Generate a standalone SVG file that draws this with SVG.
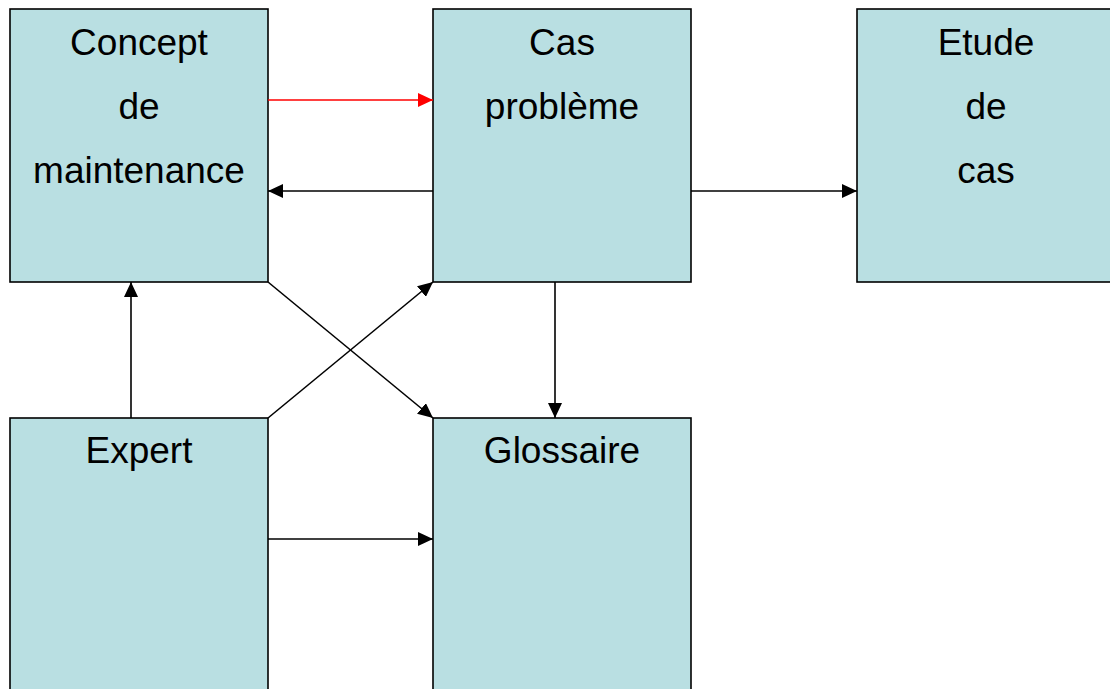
<svg xmlns="http://www.w3.org/2000/svg" width="1110" height="689" viewBox="0 0 1110 689">
<style>
.box{fill:#B9DFE2;stroke:#000;stroke-width:1.6}
.t{font-family:"Liberation Sans",Arial,sans-serif;font-size:37px;fill:#000;text-anchor:middle}
.c{stroke:#000;stroke-width:1.6;fill:none;marker-end:url(#ah)}
.r{stroke:#FF0000;stroke-width:1.6;fill:none;marker-end:url(#ahr)}
</style>
<defs>
<marker id="ah" markerUnits="userSpaceOnUse" markerWidth="16" markerHeight="14" refX="15" refY="7" orient="auto">
<path d="M0,0 L15,7 L0,14 Z" fill="#000"/>
</marker>
<marker id="ahr" markerUnits="userSpaceOnUse" markerWidth="16" markerHeight="14" refX="15" refY="7" orient="auto">
<path d="M0,0 L15,7 L0,14 Z" fill="#FF0000"/>
</marker>
</defs>
<rect width="1110" height="689" fill="#fff"/>
<g id="concept">
<rect class="box" x="10" y="9" width="258" height="273"/>
<text class="t" x="139" y="54.5">Concept</text>
<text class="t" x="139" y="118.5">de</text>
<text class="t" x="139" y="182.5">maintenance</text>
</g>
<g id="cas">
<rect class="box" x="433" y="9" width="258" height="273"/>
<text class="t" x="562" y="54.5">Cas</text>
<text class="t" x="562" y="118.5">problème</text>
</g>
<g id="etude">
<rect class="box" x="857" y="9" width="258" height="273"/>
<text class="t" x="986" y="54.5">Etude</text>
<text class="t" x="986" y="118.5">de</text>
<text class="t" x="986" y="182.5">cas</text>
</g>
<g id="expert">
<rect class="box" x="10" y="418" width="258" height="273"/>
<text class="t" x="139" y="463">Expert</text>
</g>
<g id="glossaire">
<rect class="box" x="433" y="418" width="258" height="273"/>
<text class="t" x="562" y="463">Glossaire</text>
</g>
<g id="connectors">
<line class="r" x1="268" y1="100" x2="433" y2="100"/>
<line class="c" x1="433" y1="191" x2="268" y2="191"/>
<line class="c" x1="691" y1="191" x2="857" y2="191"/>
<line class="c" x1="555" y1="282" x2="555" y2="418"/>
<line class="c" x1="131" y1="418" x2="131" y2="282"/>
<line class="c" x1="268" y1="282" x2="433" y2="418"/>
<line class="c" x1="268" y1="418" x2="433" y2="282"/>
<line class="c" x1="268" y1="539" x2="433" y2="539"/>
</g>
</svg>
